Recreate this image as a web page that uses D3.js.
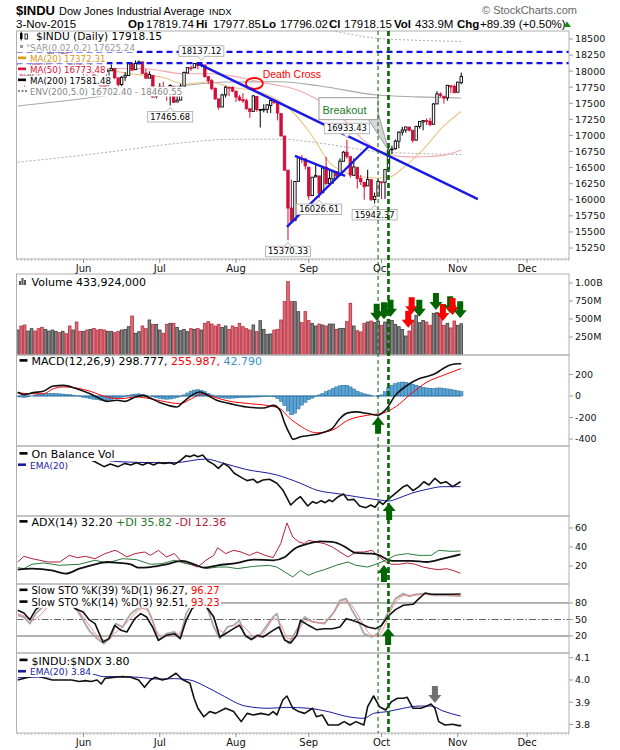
<!DOCTYPE html>
<html>
<head>
<meta charset="utf-8">
<script src="https://cdn.jsdelivr.net/npm/d3@7"></script>
<style>
  body { margin: 0; background: #fff; }
  text { font-family: "DejaVu Sans", Verdana, sans-serif; }
</style>
</head>
<body>
<div id="chart"></div>
<script>
// ---------------- data ----------------
// trading calendar (index 0 = 4 May 2015)
const firstDay = new Date(2015, 4, 4);
const lastDay = new Date(2016, 0, 1);
const holidays = ["2015-05-25", "2015-07-03", "2015-09-07", "2015-11-26", "2015-12-25"];

const priceOpen = [
  18026,18070,17929,17842,17925,18190,18103,18069,18061,18253,
  18267,18300,18315,18286,18286,18229,18045,18154,18128,
  18018,18033,18018,18069,17905,17847,17770,17770,18007,18039,
  17896,17791,17906,17932,18116,18023,18120,18143,17969,17891,
  17935,17620,
  17638,17759,17730,17687,17765,17520,17550,17767,17971,18051,
  18052,18121,18087,18096,17915,17852,17732,17568,17442,17630,
  17746,17746,
  17690,17596,17557,17540,17415,17375,17608,17398,17403,17405,
  17467,17545,17510,17339,16991,16460,15871,15676,16286,16643,
  16636,
  16507,16065,16355,16370,16109,16505,16252,16323,16433,16382,
  16599,16741,16670,16380,16505,16330,16271,16216,16313,16005,
  16058,
  16278,16272,16481,16776,16794,16911,17052,17085,17130,17081,
  16927,17142,17210,17231,17220,17174,17490,17645,17610,17585,
  17773,17763,
  17672,17820];
const priceHigh = [
  18133,18070,18030,17962,18217,18197,18103,18154,18253,18289,
  18315,18351,18351,18314,18286,18229,18190,18154,18128,
  18105,18069,18168,18069,17941,17854,17807,18026,18105,18039,
  17896,17924,17984,18138,18116,18167,18167,18143,18034,17998,
  17935,17720,
  17812,17834,17730,17796,17765,17712,17802,17995,18058,18087,
  18127,18129,18137,18096,17915,17880,17746,17568,17650,17770,
  17754,17763,
  17690,17626,17657,17574,17415,17630,17608,17410,17484,17477,
  17551,17567,17510,17339,16991,16460,16312,16285,16666,16697,
  16636,
  16507,16351,16539,16370,16507,16665,16450,16433,16442,16644,
  16756,16933,16670,16644,16505,16387,16271,16467,16313,16112,
  16317,
  16278,16472,16809,16843,16936,17063,17135,17131,17130,17081,
  17148,17216,17231,17265,17275,17504,17689,17669,17610,17780,
  17773,17793,
  17833,17978];
const priceLow = [
  18026,17905,17733,17806,17925,18095,17897,18041,18061,18232,
  18226,18286,18242,18249,18217,17990,18045,18066,17967,
  17930,17887,18018,17858,17792,17752,17646,17770,18007,17874,
  17671,17766,17848,17932,18005,18023,18100,17965,17883,17891,
  17596,17576,
  17638,17712,17538,17466,17504,17520,17550,17767,17971,18003,
  18052,18028,18060,17895,17799,17701,17554,17399,17442,17590,
  17612,17675,
  17521,17533,17504,17398,17274,17375,17369,17123,17359,17346,
  17347,17490,17234,16990,16459,15370,15651,15676,16286,16571,
  16471,
  16000,16065,16355,16027,16109,16224,16212,16245,16330,16382,
  16599,16639,16343,16380,16175,16227,16000,16216,15982,15942,
  16058,
  16013,16014,16481,16710,16777,16800,17000,17041,17061,16889,
  16926,17105,17082,17162,17142,17174,17490,17599,17495,17540,
  17658,17660,
  17672,17796];
const priceClose = [
  18070,17928,17842,17924,18191,18105,18068,18060,18252,18273,
  18299,18312,18285,18286,18232,18042,18163,18126,18011,
  18040,18012,18076,17906,17849,17767,17764,18000,18039,17899,
  17791,17904,17936,18116,18016,18120,18144,17966,17890,17947,
  17596,17620,
  17758,17730,17684,17776,17515,17549,17760,17978,18054,18050,
  18120,18086,18100,17919,17851,17732,17569,17441,17630,17751,
  17746,17690,
  17598,17551,17540,17420,17373,17615,17403,17403,17408,17477,
  17545,17511,17349,16991,16460,15871,15666,16285,16655,16643,
  16528,
  16058,16351,16375,16102,16493,16254,16330,16433,16371,16600,
  16740,16675,16385,16510,16330,16280,16201,16315,16002,16049,
  16285,
  16272,16472,16776,16790,16912,17051,17084,17132,17082,16925,
  17142,17216,17231,17217,17169,17489,17647,17623,17581,17780,
  17756,17664,
  17829,17918];
// volume, millions of shares
const volume = [
  347,403,417,333,366,333,366,384,356,333,
  347,329,310,329,296,403,347,458,329,329,
  347,356,370,347,356,347,329,329,310,329,
  347,356,393,541,301,324,403,366,486,426,
  426,347,301,426,440,440,384,338,356,324,
  366,356,366,347,440,463,430,403,426,384,
  403,356,403,384,440,393,366,347,417,324,
  477,356,287,292,347,356,486,741,1019,741,
  741,602,449,602,477,440,403,430,417,403,
  430,430,356,370,370,463,718,403,338,
  320,440,458,472,450,472,412,458,495,481,
  426,393,356,264,333,472,551,449,481,458,
  412,579,588,551,412,440,375,472,412,434];

// moving averages (read at these trading-day positions)
const ma20At  = [0,8,18,26,34,42,48,55,61.3,70.8,78.8,84.4,90.1,95,99.7,104.6,107.4,111.2,116.9,122.7,128];
const ma20Val = [18000,18100,18150,18020,17950,17900,17800,17830,17754,17660,17396,17038,16572,16416,16354,16339,16354,16494,16774,17132,17372];
const ma50At  = [0,12,24,36,48,56,61.3,66,70,74,80.7,85,90.2,95,99.7,103.7,107.4,111,115.2,119,122.7,126,128];
const ma50Val = [17900,17990,18040,18040,17960,17960,17930,17880,17830,17790,17707,17600,17443,17200,16930,16780,16700,16670,16665,16672,16690,16735,16773];
const ma200At  = [0,15.7,27.2,45,61.3,75.7,87.2,103.7,115,128];
const ma200Val = [17458,17552,17629,17760,17831,17835,17769,17629,17600,17582];
const envLowVal  = [16585,16674,16748,16872,16939,16943,16881,16748,16720,16702];
const envHighVal = [18331,18430,18510,18648,18723,18727,18657,18510,18480,18461];

// MACD(12,26,9)
const macdAt  = [0,2,4.5,7.4,10.3,13.2,17,20.9,23.8,25.7,28.6,31,33.9,36.2,38.2,41.1,45.9,47.8,50.2,52.6,54.5,57.4,61.3,66.1,70.9,73.8,75.7,77.1,78.6,79.4,81.6,85.1,87.3,90.8,93,95.3,97.6,101,103.9,106.1,109,112.4,115.8,118.1,120.4,122.7,125,127.3,128];
const macdVal = [35,12,31,44,93,99,68,21,-25,-50,-40,-50,-9,6,-19,-62,-102,-56,6,37,12,-40,-71,-102,-112,-87,-133,-257,-360,-403,-379,-363,-348,-302,-209,-157,-148,-163,-179,-132,6,99,160,182,206,253,290,299,299];
const signalAt  = [0,3.5,7.4,10.3,13.2,17,20.9,25.7,29.5,34.3,38.2,42,46.8,50.2,53.6,56.5,61.3,67,72.8,75.7,78.1,81.6,86.2,90.8,95.3,101,105.6,109,113.6,118.1,122.7,128];
const signalVal = [31,21,21,68,84,74,44,-9,-25,-9,-25,-50,-71,-25,21,-9,-50,-71,-93,-118,-195,-280,-342,-317,-225,-179,-157,-102,22,129,191,256];
const macdHist = [
  -8,-10,-12,-8,0,8,15,20,22,25,
  25,22,20,18,15,12,8,2,-5,-12,
  -18,-25,-30,-35,-40,-45,-40,-32,-25,-20,
  -12,-5,5,12,18,20,15,8,0,-8,
  -15,-22,-28,-30,-28,-22,-15,-5,10,28,
  45,55,58,52,40,25,10,-5,-12,-18,
  -20,-22,-20,-18,-16,-15,-14,-12,-10,-10,
  -8,-6,-5,-3,-8,-25,-50,-90,-140,-175,
  -160,-120,-85,-60,-35,-20,-5,10,25,40,
  55,70,85,95,100,100,85,65,45,30,
  20,12,5,0,-5,10,40,75,100,115,
  125,130,128,120,110,100,90,80,75,72,
  70,74,75,70,66,62,55,48,43];

// On Balance Volume (relative units) and its EMA(20)
const obvAt  = [0,5,10,14,17.2,18.9,20.6,22.3,24.9,26.7,29,30.9,32.6,34.3,36,37.7,39.2,40.6,42.3,44,45.2,46.9,48.6,49.7,50.9,52,53.4,54.8,56.6,57.9,59.4,60.9,62.5,64.5,66.2,68,69.1,70.8,72.7,74.8,76.5,78.8,80.3,81.6,83.7,85.1,86.2,87.6,88.7,89.9,90.8,92.5,94,95.3,97,98.7,100.5,101.9,103.1,104.4,105.4,106.7,109,111.3,112.4,114.1,115.8,117.2,118.7,120.4,122.1,123.6,125.5,127.8];
const obvVal = [78,80,77,79,80,80,81,77.6,70.5,74.3,70.5,75.2,72.9,76.2,72.9,76.2,72.9,76.2,75.2,76.2,73.8,79,86.2,84.8,87.1,84.8,87.1,79,73.8,68.1,75.2,70.5,61,55.2,50.5,52.4,47.6,51.4,52.4,46.7,37.2,15.7,22.9,27.6,14.3,20.5,18.1,21.9,19,22.9,20.5,27.6,31.4,22.9,23.8,14.3,11.9,15.7,12.4,20.5,16.7,22.9,32.4,41.9,44.3,36.2,41.9,49,44.3,53.8,46.7,49,41.9,49];
const obvEmaAt  = [0,8,16,22.3,29.2,40.6,45.2,54.3,58.8,65.7,74.8,81.6,86.2,93,97.6,104.4,107.3,109,113.6,118.1,122.7,127.8];
const obvEmaVal = [78,79,79.5,81,77.6,76.2,76.2,81.4,76.2,66.7,58.6,46.7,37.1,31.4,27.6,22.9,21.4,23.8,32.4,38.1,41.9,41.9];

// ADX(14)
const adxAt  = [0,4.1,9.8,13.8,17.8,22.3,25.8,29.2,32.6,34.9,38.3,42.9,47.4,50.9,53.7,57.7,63.4,68,73.7,77.1,79.9,83.9,87.3,90.8,94.2,97.6,102.2,104.4,107.3,109,113.6,118.1,122.7,127.8];
const adxVal = [16.1,17.2,15.4,11.9,17.2,21.8,24.2,23.2,21.8,18.2,18.9,21.8,25.3,21.8,18.2,20.7,23.2,26.7,26,29.5,38.2,43.5,46,45.3,40.7,33.7,33,31.2,26,25.3,25.3,24.2,27.7,32.2];
const plusDiAt  = [0,1.8,4.1,7.5,12.1,17.8,22.3,25.8,30.3,34.3,38.3,41.7,45.2,48.6,50.9,54.3,57.7,60.5,63.4,68,72.5,74.8,77.1,79.4,81.6,83.9,86.2,88.5,91.9,95.3,97.6,101,103.9,106.2,109,112.4,115.8,119.3,121.5,125,127.8];
const plusDiVal = [18.2,17.2,21.8,23.2,20.7,21.8,26,23.2,27.7,26.7,21.8,22.5,26,22.5,21.8,17.2,18.9,18.9,17.2,19.6,20.7,18.9,13.7,8.4,15.4,10.2,13.7,16.1,20.7,24.2,20.7,18.9,22.5,26,31.2,33,31.2,31.2,36.5,35.4,35.8];
const minusDiAt  = [0,1.8,4.1,6.4,8.7,12.1,14.9,17.2,19.5,22.3,25.2,28.1,29.2,31.5,33.8,36.6,38.3,40.6,42.9,45.2,47.4,49.7,52,54.3,56.6,57.7,60,62.3,64.5,66.8,69.1,71.4,73.7,75.9,77.7,79.4,81.1,82.8,83.9,86.2,88.5,90.8,93,95.3,97.6,99.9,102.2,103.9,106.2,107.9,110.1,112.4,114.7,117,119.3,121.5,123.8,126.1,127.8];
const minusDiVal = [24.2,30.2,27.7,26,24.2,24.2,31.2,28.8,30.2,27.7,33,36.5,34.7,29.5,33,34.7,31.2,36.5,29.5,33,24.2,21.8,18.9,26,31.2,39.3,33,36.5,34.7,31.2,34.7,31.2,28.8,43.5,65.3,50.5,45.3,43.5,47,45.3,43.5,40,34.7,29.5,34.7,34.7,36.5,31.2,24.2,21.8,21.8,23.2,21.8,18.9,17.2,16.1,17.2,14.7,12.4];

// Slow stochastics
const sto39At  = [0,1.8,3.5,5.2,7.5,10.9,14.4,16.6,18.9,20.6,22.3,24.6,26.3,28,29.8,31.5,33.8,35.5,37.2,38.9,40.6,42.9,45.2,46.9,48.6,50.3,52,53.1,54.3,56.6,58.3,60,62.3,64,65.7,67.4,69.1,70.8,73.7,75.4,77.1,78.8,80.5,81.6,83.9,86.2,88.5,90.8,93,94.8,96.5,98.7,101,103.3,105,106.7,109,111.3,114.1,115.8,117.6,119.3,121.5,125,127.8];
const sto39Val = [66.7,61.8,49.7,67.9,78.8,84.8,81.8,69.7,63.6,49.7,42.4,9.1,15.2,39.4,30.3,27.3,51.5,60.6,54.5,36.4,12.1,21.2,24.2,15.2,48.5,69.7,77.6,80,73.9,54.5,18.2,24.2,33.3,39.4,21.2,13.3,21.2,18.2,30.3,36.4,12.1,7.3,21.2,48.5,39.4,31.5,33.3,33.3,36.4,51.5,48.5,43.6,36.4,33.3,39.4,54.5,67.9,75.8,77.6,87.9,98.2,95.8,95.8,95.8,96.3];
const sto14At  = [0,1.8,3.5,5.2,8.7,12.1,14.9,16.6,18.9,20.6,22.9,24.9,26.9,28.3,30.3,32.6,34.9,37.2,38.9,40.6,42.9,45.2,46.9,48.6,50.3,52,54.3,56.6,58.3,60.5,62.3,64,65.7,68,70.2,73.7,74.8,76.5,78.2,80.5,82.8,85.1,88.5,91.3,93,94.8,96.5,98.2,99.9,102.2,103.9,106.2,109,111.3,113,114.7,117,120.4,123.8,127.8];
const sto14Val = [57.6,54.5,42.4,60.6,81.8,87.9,78.8,72.7,48.5,30.3,15.2,6.1,18.2,42.4,36.4,60.6,71.5,72.7,48.5,12.1,24.2,27.3,18.2,60.6,78.8,86.1,78.8,36.4,15.2,36.4,39.4,48.5,18.2,15.2,24.2,54.5,60.6,18.2,6.1,30.3,54.5,45.5,42.4,63.6,84.8,87.9,66.7,48.5,24.2,18.2,24.2,54.5,87.9,97,92.1,95.8,97,93.9,93.9,92.5];
const sto14dAt  = [0,2,4,6,9,13,16,18,20,22,24,26,28,30,32,34,36,38,40,42,44,46,48,50,52,54,56,58,60,62,64,66,68,70,72,74,76,78,80,82,84,86,88,90,92,94,96,98,100,102,104,106,108,110,112,114,116,118,122,126,128];
const sto14dVal = [60,56,48,55,75,85,78,62,45,28,14,12,25,35,48,62,70,62,30,18,22,22,38,65,80,82,60,32,26,32,42,32,20,18,35,52,40,15,16,40,48,45,44,52,70,84,78,60,38,22,20,40,70,88,94,94,95,96,95,94,93.2];

// $INDU:$NDX ratio and its EMA(20)
const ratioAt  = [0,5,10,15.5,17.8,19.5,21.2,22.9,24.1,25.2,28.1,30.3,32.6,34.9,36.6,38.3,39.7,41.7,43.4,45.7,47.4,49.7,50.9,52,53.7,55.4,57.1,60,62.3,64.5,66.2,68,70.2,72.5,73.7,74.8,76.5,77.7,79.4,81.1,82.8,85.1,86.2,87.9,89.6,92.5,94.2,95.9,97.6,99.9,101,102.7,104.4,106.2,107.9,109.6,111.3,112.4,114.1,116.4,118.1,119.3,120.4,121.5,123.3,125.5,127.3,128];
const ratioVal = [4.0,4.02,4.0,4.0,3.993,3.997,3.993,4.0,3.982,4.007,4.012,4.015,4.012,4.0,3.967,4.0,4.012,4.0,4.007,4.03,4.003,3.985,3.918,3.873,3.835,3.858,3.85,3.873,3.858,3.813,3.85,3.843,3.85,3.843,3.858,3.843,3.91,3.928,3.873,3.858,3.85,3.873,3.835,3.843,3.798,3.798,3.813,3.798,3.813,3.798,3.88,3.928,3.88,3.865,3.903,3.918,3.918,3.922,3.873,3.873,3.883,3.892,3.873,3.813,3.798,3.801,3.795,3.795];
const ratioEmaAt  = [0,10,21.8,24.6,29.2,34.9,40.6,45.2,49.7,54.3,58.8,65.7,72.5,77.7,83.9,89.6,95.3,99.9,102.7,106.7,111.3,115.8,119.3,122.7,127.8];
const ratioEmaVal = [4.01,4.015,4.025,4.015,4.015,4.012,4.004,4.006,4.0,3.97,3.933,3.883,3.873,3.877,3.873,3.858,3.835,3.828,3.85,3.858,3.873,3.883,3.883,3.861,3.838];

// axis tick labels
const priceTicks = [18500,18250,18000,17750,17500,17250,17000,16750,16500,16250,16000,15750,15500,15250];
const volTicks = [1000,750,500,250];
const volTickLabels = ["1.00B","750M","500M","250M"];
const macdTicks = [200,0,-200,-400];
const adxTicks = [60,40,20];
const stoTicks = [80,50,20];
const ratioTicks = [4.1,4.0,3.9,3.8];

// annotations
const peakLabels = [
  {i: 44, price: 17465.68, side: "low"},
  {i: 53, price: 18137.12, side: "high"},
  {i: 78, price: 15370.33, side: "low"},
  {i: 87, price: 16026.61, side: "low"},
  {i: 95, price: 16933.43, side: "high"},
  {i: 103, price: 15942.37, side: "low"}];
const resistance = [18300, 18125];
const trendLines = [
  [[51.8, 18124], [132.8, 16010]],
  [[80.0, 16681], [94.5, 16370]],
  [[77.7, 15577], [101.4, 16836]]];
const signalDays = [{i: 104, w: 1, dash: "4,3"}, {i: 107, w: 2.6, dash: "5,3"}];
const volArrows = [
  {i: 103.6, v: 476, c: "#006400"}, {i: 105.7, v: 496, c: "#006400"}, {i: 107.6, v: 532, c: "#006400"},
  {i: 112.7, v: 379, c: "#ff0000"}, {i: 113.7, v: 565, c: "#ff0000"},
  {i: 115.9, v: 532, c: "#006400"}, {i: 120.7, v: 625, c: "#006400"},
  {i: 122.7, v: 472, c: "#ff0000"}, {i: 124.8, v: 579, c: "#006400"},
  {i: 125.5, v: 556, c: "#ff0000"}, {i: 127.7, v: 510, c: "#006400"}];

// ---------------- layout ----------------
const W = 620, H = 750, X0 = 16.5, X1 = 569;
const svg = d3.select("#chart").append("svg").attr("width", W).attr("height", H);
svg.append("rect").attr("width", W).attr("height", H).attr("fill", "#fff");

const fmtDay = d3.timeFormat("%Y-%m-%d");
const days = d3.timeDay.range(firstDay, lastDay)
  .filter(d => d.getDay() % 6 !== 0 && !holidays.includes(fmtDay(d)));

const x = d3.scaleLinear().domain([-0.35, 159.1]).range([X0, X1]);
const step = x(1) - x(0);

const panels = {
  price: {top: 31, bottom: 259, y: d3.scaleLinear().domain([15079, 18624]).range([259, 31])},
  vol:   {top: 274, bottom: 355, y: d3.scaleLinear().domain([0, 1125]).range([355, 274])},
  macd:  {top: 355, bottom: 446, y: d3.scaleLinear().domain([-465, 381]).range([446, 355])},
  obv:   {top: 446, bottom: 516, y: d3.scaleLinear().domain([0, 100]).range([516, 446])},
  adx:   {top: 516, bottom: 584, y: d3.scaleLinear().domain([1.05, 72.6]).range([584, 516])},
  sto:   {top: 584, bottom: 653, y: d3.scaleLinear().domain([-10.9, 114.5]).range([653, 584])},
  ratio: {top: 653, bottom: 733, y: d3.scaleLinear().domain([3.762, 4.121]).range([733, 653])}
};

const defs = svg.append("defs");
Object.entries(panels).forEach(([k, p]) => {
  defs.append("clipPath").attr("id", "clip-" + k).append("rect")
    .attr("x", X0).attr("y", p.top).attr("width", X1 - X0).attr("height", p.bottom - p.top);
  p.g = svg.append("g").attr("clip-path", `url(#clip-${k})`);
});

function series(at, val) { return at.map((d, k) => [d, val[k]]); }
function drawLine(p, data, color, width, curve, dash) {
  const ln = d3.line().x(d => x(d[0])).y(d => p.y(d[1])).curve(curve || d3.curveLinear);
  const path = p.g.append("path").datum(data).attr("d", ln).attr("fill", "none")
    .attr("stroke", color).attr("stroke-width", width).attr("stroke-linejoin", "round");
  if (dash) path.attr("stroke-dasharray", dash);
  return path;
}
function rightAxis(p, ticks, labels) {
  ticks.forEach((t, k) => {
    const yy = p.y(t);
    svg.append("line").attr("x1", X1).attr("x2", X1 + 4).attr("y1", yy).attr("y2", yy).attr("stroke", "#999");
    svg.append("text").attr("x", X1 + 6).attr("y", yy).attr("dy", "0.36em")
      .style("font-size", "9.5px").attr("fill", "#111").text(labels ? labels[k] : t);
  });
}
function legend(xText, yBase, parts, size, marker) {
  const grp = svg.append("g");
  const bg = grp.append("rect").attr("fill", "#fff");
  const t = grp.append("text").attr("x", xText).attr("y", yBase)
    .style("font-size", size + "px").style("white-space", "pre");
  parts.forEach(p => t.append("tspan").attr("fill", p[1]).text(p[0]));
  const b = t.node().getBBox();
  bg.attr("x", X0 + 0.5).attr("y", b.y).attr("width", b.x + b.width - X0 + 1).attr("height", b.height);
  if (marker) {
    grp.append("rect").attr("x", xText - 12).attr("y", yBase - size * 0.42 - 1.3)
      .attr("width", 8).attr("height", 2.6).attr("fill", marker);
  }
  return grp;
}
function arrow(g, cx, tip, dir, color) {
  const s = dir === "up" ? -1 : 1, L = 17, hh = 8, hw = 6.5, sw = 3;
  const pts = [[cx - sw, tip - s * L], [cx + sw, tip - s * L], [cx + sw, tip - s * hh], [cx + hw, tip - s * hh],
               [cx, tip], [cx - hw, tip - s * hh], [cx - sw, tip - s * hh]];
  g.append("polygon").attr("points", pts.map(q => q.join(",")).join(" ")).attr("fill", color);
}

// ---------------- header ----------------
const sansHdr = '"Liberation Sans", Arial, sans-serif';
svg.append("text").attr("x", 16).attr("y", 14.5).style("font-size", "13px").style("font-weight", "bold")
  .style("font-family", sansHdr).text("$INDU");
svg.append("text").attr("x", 59).attr("y", 14.5).style("font-size", "11px")
  .style("font-family", sansHdr).text("Dow Jones Industrial Average");
svg.append("text").attr("x", 209).attr("y", 14.5).style("font-size", "9.5px")
  .style("font-family", sansHdr).text("INDX");
svg.append("text").attr("x", 482).attr("y", 14).style("font-size", "11px").attr("fill", "#666")
  .style("font-family", sansHdr).text("© StockCharts.com");
const quote = [["3-Nov-2015", 16, false], ["Op", 128, true], ["17819.74", 146, false], ["Hi", 196, true],
  ["17977.85", 213, false], ["Lo", 262, true], ["17796.02", 280, false], ["Cl", 329, true],
  ["17918.15", 344, false], ["Vol", 394, true], ["433.9M", 415, false], ["Chg", 457, true],
  ["+89.39 (+0.50%)", 480, false]];
quote.forEach(q => svg.append("text").attr("x", q[1]).attr("y", 27.5).style("font-size", "11.5px")
  .style("font-family", sansHdr).style("font-weight", q[2] ? "bold" : "normal").text(q[0]));
svg.append("polygon").attr("points", "563,27 571,27 567,21.5").attr("fill", "#1a8a1a");

// ---------------- price panel ----------------
const P = panels.price;
drawLine(P, series(ma200At, envLowVal), "#aaa", 1, d3.curveMonotoneX, "2,2");
drawLine(P, series(ma200At, envHighVal), "#aaa", 1, d3.curveMonotoneX, "2,2");
drawLine(P, series(ma200At, ma200Val), "#a8a8a8", 1.1, d3.curveMonotoneX);
drawLine(P, series(ma50At, ma50Val), "#f2a8b0", 1.1, d3.curveMonotoneX);
drawLine(P, series(ma20At, ma20Val), "#ecc488", 1.1, d3.curveMonotoneX);

priceClose.forEach((c, i) => {
  const o = priceOpen[i], prev = i ? priceClose[i - 1] : o;
  const col = c >= prev ? "#000" : "#d0103a";
  const cx = x(i);
  P.g.append("line").attr("x1", cx).attr("x2", cx).attr("y1", P.y(priceHigh[i])).attr("y2", P.y(priceLow[i]))
    .attr("stroke", col).attr("stroke-width", 1);
  const y1 = P.y(Math.max(o, c)), y2 = P.y(Math.min(o, c));
  P.g.append("rect").attr("x", cx - 1.2).attr("y", y1).attr("width", 2.4).attr("height", Math.max(0.8, y2 - y1))
    .attr("fill", c < o ? col : "#fff").attr("stroke", col).attr("stroke-width", 0.9);
});

// price legend
const lg1 = legend(36, 40, [["$INDU (Daily) 17918.15", "#000"]], 10.6);
lg1.append("rect").attr("x", 20).attr("y", 33).attr("width", 2.5).attr("height", 6).attr("fill", "#000");
lg1.append("rect").attr("x", 25).attr("y", 34).attr("width", 2.5).attr("height", 5).attr("fill", "#fff").attr("stroke", "#000").attr("stroke-width", 0.8);
lg1.append("line").attr("x1", 21.2).attr("x2", 21.2).attr("y1", 31.5).attr("y2", 40.5).attr("stroke", "#000");
const lg2 = legend(26, 50.5, [["°SAR(0.02,0.2) 17625.24", "#999"]], 8.7);
lg2.append("rect").attr("x", 20).attr("y", 45).attr("width", 3).attr("height", 3).attr("fill", "#999");
legend(30, 61.5, [["MA(20) 17372.31", "#d89a1a"]], 8.7, "#d89a1a");
legend(30, 72.5, [["MA(50) 16773.48", "#e0103c"]], 8.7, "#e0103c");
legend(30, 83.5, [["MA(200) 17581.48", "#000"]], 8.7, "#000");
const lg6 = legend(30, 94.5, [["ENV(200,5.0) 16702.40 - 18460.55", "#888"]], 8.7);
lg6.append("line").attr("x1", 18).attr("x2", 27).attr("y1", 91).attr("y2", 91).attr("stroke", "#888")
  .attr("stroke-width", 2).attr("stroke-dasharray", "2,1.5");

// peak labels
const ann = svg.append("g");
peakLabels.forEach(l => {
  const cx = x(l.i), py = P.y(l.price);
  const txt = ann.append("text").attr("x", cx).attr("text-anchor", "middle").style("font-size", "8.4px")
    .text(l.price.toFixed(2));
  const w = txt.node().getComputedTextLength() + 5, h = 10.5;
  const top = l.side === "low" ? py + 6 : py - 6 - h;
  txt.attr("y", top + 8.2);
  ann.insert("rect", "text").attr("x", cx - w / 2).attr("y", top).attr("width", w).attr("height", h)
    .attr("fill", "#fff").attr("stroke", "#b0b0b0").attr("stroke-width", 0.9);
  const ty = l.side === "low" ? top : top + h, d = l.side === "low" ? -4 : 4;
  ann.append("path").attr("d", `M${cx - 3.5},${ty} L${cx},${ty + d} L${cx + 3.5},${ty}`)
    .attr("fill", "#fff").attr("stroke", "#b0b0b0").attr("stroke-width", 0.9);
});

// death cross
const dc = {i: 68.3, v: 17808};
P.g.append("ellipse").attr("cx", x(dc.i)).attr("cy", P.y(dc.v)).attr("rx", 8.5).attr("ry", 5.5)
  .attr("fill", "none").attr("stroke", "#ff0000").attr("stroke-width", 1.8);
svg.append("text").attr("x", x(dc.i) + 8.3).attr("y", P.y(dc.v) - 5.3).style("font-size", "10.5px")
  .style("font-family", sansHdr).attr("fill", "#ff0000").text("Death Cross");

// breakout callout
const bo = {i: 107, v: 16740};
const bx = x(bo.i), by = P.y(bo.v);
svg.append("polygon").attr("points", `${bx - 20},${by - 32.5} ${bx - 10.5},${by - 40} ${bx},${by - 2}`)
  .attr("fill", "#d8d8d8").attr("stroke", "#888").attr("stroke-width", 0.8);
svg.append("rect").attr("x", bx - 69.5).attr("y", by - 54.5).attr("width", 59).attr("height", 22)
  .attr("fill", "#fff").attr("stroke", "#999").attr("stroke-width", 1);
svg.append("text").attr("x", bx - 66).attr("y", by - 38.5).style("font-size", "11px")
  .style("font-family", sansHdr).attr("fill", "#1a7a1a").text("Breakout");

// trend lines and resistance
trendLines.forEach(t => P.g.append("line").attr("x1", x(t[0][0])).attr("y1", P.y(t[0][1]))
  .attr("x2", x(t[1][0])).attr("y2", P.y(t[1][1])).attr("stroke", "#1a1ae6").attr("stroke-width", 2.4));
resistance.forEach(r => P.g.append("line").attr("x1", X0).attr("x2", X1).attr("y1", P.y(r)).attr("y2", P.y(r))
  .attr("stroke", "#1010e0").attr("stroke-width", 2.2).attr("stroke-dasharray", "6,4"));

rightAxis(P, priceTicks);

// ---------------- volume ----------------
const V = panels.vol;
volume.forEach((v, i) => {
  const down = i > 0 && priceClose[i] < priceClose[i - 1];
  V.g.append("rect").attr("x", x(i) - step / 2 + 0.4).attr("y", V.y(v)).attr("width", step - 0.8)
    .attr("height", V.y(0) - V.y(v)).attr("fill", down ? "#d9707a" : "#858585")
    .attr("stroke", down ? "#b8283c" : "#3a3a3a").attr("stroke-width", 0.8);
});
rightAxis(V, volTicks, volTickLabels);
const lv = legend(31.5, 285.5, [["Volume 433,924,000", "#000"]], 11);
[[19, 4], [21.5, 7], [24, 5]].forEach(b => lv.append("rect").attr("x", b[0]).attr("y", 285 - b[1])
  .attr("width", 2).attr("height", b[1]).attr("fill", "#555"));

// ---------------- MACD ----------------
const M = panels.macd;
macdHist.forEach((h, i) => {
  M.g.append("rect").attr("x", x(i) - step / 2).attr("width", step)
    .attr("y", Math.min(M.y(h), M.y(0))).attr("height", Math.abs(M.y(h) - M.y(0)))
    .attr("fill", "#5aa3d2").attr("stroke", "#2b6e9e").attr("stroke-width", 0.5);
});
M.g.append("line").attr("x1", x(0)).attr("x2", x(128)).attr("y1", M.y(0)).attr("y2", M.y(0))
  .attr("stroke", "#2b6e9e").attr("stroke-width", 0.8);
drawLine(M, series(signalAt, signalVal), "#ff0000", 1, d3.curveMonotoneX);
drawLine(M, series(macdAt, macdVal), "#111", 1.6, d3.curveMonotoneX);
rightAxis(M, macdTicks);
legend(31.5, 365, [["MACD(12,26,9) 298.777, ", "#000"], ["255.987, ", "#ff0000"], ["42.790", "#3a8fc7"]], 11, "#000");

// ---------------- OBV ----------------
const O = panels.obv;
drawLine(O, series(obvEmaAt, obvEmaVal), "#1a1aa0", 1, d3.curveMonotoneX);
drawLine(O, series(obvAt, obvVal), "#111", 1.6);
legend(31.5, 458, [["On Balance Vol", "#000"]], 11, "#000");
legend(30, 468.5, [["EMA(20)", "#1a1aa0"]], 9, "#1a1aa0");

// ---------------- ADX ----------------
const A = panels.adx;
drawLine(A, series(minusDiAt, minusDiVal), "#b3203a", 1);
drawLine(A, series(plusDiAt, plusDiVal), "#2a7a3a", 1);
drawLine(A, series(adxAt, adxVal), "#111", 1.8, d3.curveMonotoneX);
rightAxis(A, adxTicks);
legend(31.5, 526, [["ADX(14) 32.20 ", "#000"], ["+DI 35.82 ", "#2a7a2a"], ["-DI 12.36", "#b3203a"]], 11, "#000");

// ---------------- Stochastics ----------------
const S = panels.sto;
[[80, null], [20, null], [50, "7,2,1.5,2"]].forEach(r => {
  const l = S.g.append("line").attr("x1", X0).attr("x2", X1).attr("y1", S.y(r[0])).attr("y2", S.y(r[0]))
    .attr("stroke", "#666").attr("stroke-width", 1);
  if (r[1]) l.attr("stroke-dasharray", r[1]);
});
drawLine(S, series(sto14At, sto14Val), "#a8a8a8", 1.8);
drawLine(S, series(sto14dAt, sto14dVal), "#f08a8a", 1, d3.curveMonotoneX);
drawLine(S, series(sto39At, sto39Val), "#111", 1.6);
rightAxis(S, stoTicks);
legend(31.5, 594, [["Slow STO %K(39) %D(1) 96.27, ", "#000"], ["96.27", "#ff0000"]], 10, "#000");
legend(31.5, 605.8, [["Slow STO %K(14) %D(3) 92.51, ", "#000"], ["93.23", "#ff0000"]], 10, "#000");

// ---------------- ratio ----------------
const R = panels.ratio;
drawLine(R, series(ratioEmaAt, ratioEmaVal), "#1a1aa0", 1, d3.curveMonotoneX);
drawLine(R, series(ratioAt, ratioVal), "#111", 1.6);
rightAxis(R, ratioTicks, ratioTicks.map(d => d.toFixed(1)));
legend(31.5, 664.5, [["$INDU:$NDX 3.80", "#000"]], 11, "#000");
legend(30, 675, [["EMA(20) 3.84", "#1a1aa0"]], 9, "#1a1aa0");

// ---------------- frames and time axes ----------------
Object.values(panels).forEach(p => svg.append("rect").attr("x", X0).attr("y", p.top)
  .attr("width", X1 - X0).attr("height", p.bottom - p.top)
  .attr("fill", "none").attr("stroke", "#b0b0b0").attr("stroke-width", 1));

const monthFmt = d3.timeFormat("%b");
const monthStarts = days.map((d, i) => ({d, i}))
  .filter(o => o.i > 0 && o.d.getMonth() !== days[o.i - 1].getMonth() && x(o.i) < X1);
[P.bottom, R.bottom].forEach(yb => {
  days.forEach((d, i) => {
    if (x(i) > X1) return;
    svg.append("line").attr("x1", x(i)).attr("x2", x(i)).attr("y1", yb).attr("y2", yb + 2)
      .attr("stroke", "#aaa").attr("stroke-width", 0.7);
  });
  monthStarts.forEach(m => {
    svg.append("line").attr("x1", x(m.i)).attr("x2", x(m.i)).attr("y1", yb).attr("y2", yb + 4)
      .attr("stroke", "#777").attr("stroke-width", 0.8);
    svg.append("text").attr("x", x(m.i)).attr("y", yb + 13).attr("text-anchor", "middle")
      .style("font-size", "10px").attr("fill", "#111").text(monthFmt(m.d));
  });
});

// ---------------- signal markers ----------------
const marks = svg.append("g");
signalDays.forEach(s => marks.append("line").attr("x1", x(s.i)).attr("x2", x(s.i))
  .attr("y1", P.top).attr("y2", R.bottom).attr("stroke", "#006400")
  .attr("stroke-width", s.w).attr("stroke-dasharray", s.dash));
volArrows.forEach(a => arrow(marks, x(a.i), V.y(a.v), "down", a.c));
arrow(marks, x(104), M.y(-193), "up", "#006400");
arrow(marks, x(107.2), O.y(18.6), "up", "#006400");
arrow(marks, x(105.7), A.y(21), "up", "#006400");
arrow(marks, x(106.9), S.y(34.5), "up", "#006400");
arrow(marks, x(120.4), R.y(3.897), "down", "#707070");
</script>
</body>
</html>
